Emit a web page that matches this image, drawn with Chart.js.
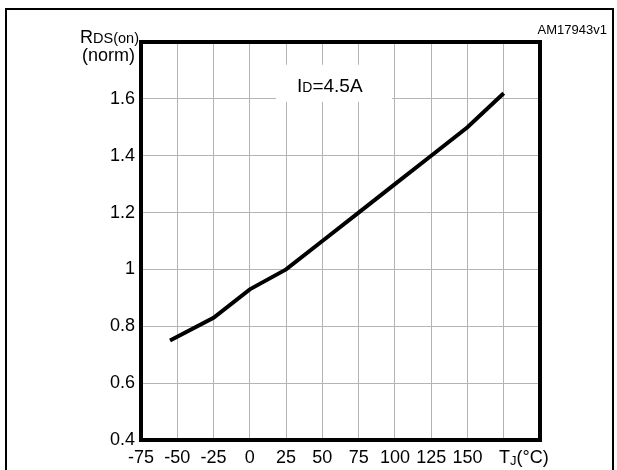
<!DOCTYPE html>
<html>
<head>
<meta charset="utf-8">
<script src="https://cdn.jsdelivr.net/npm/chart.js@4"></script>
<style>
  html, body { margin: 0; padding: 0; background: #fff; }
  canvas { display: block; }
</style>
</head>
<body>
<canvas id="rdsChart" width="617" height="470"></canvas>
<script>
// junction temperature (°C) and normalised RDS(on)
const temps = [-55, -25, 0, 25, 50, 75, 100, 125, 150, 175];
const rdsNorm = [0.75, 0.83, 0.93, 1.0, 1.1, 1.2, 1.3, 1.4, 1.5, 1.62];
const xTicks = [-75, -50, -25, 0, 25, 50, 75, 100, 125, 150];
const yTicks = [0.4, 0.6, 0.8, 1, 1.2, 1.4, 1.6];

const FONT = "'Liberation Sans', Arial, sans-serif";

const extras = {
  id: "extras",
  beforeDraw(chart) {
    const c = chart.ctx;
    c.save();
    c.strokeStyle = "#000";
    c.lineWidth = 2;
    c.strokeRect(6, 9, 607, 480);
    c.restore();
  },
  beforeDatasetsDraw(chart) {
    const c = chart.ctx;
    const x = chart.scales.x, y = chart.scales.y;
    // white label box over the grid
    const x0 = x.getPixelForValue(18), x1 = x.getPixelForValue(98);
    const y0 = y.getPixelForValue(1.72), y1 = y.getPixelForValue(1.59);
    c.save();
    c.fillStyle = "#fff";
    c.fillRect(x0, y0, x1 - x0, y1 - y0);
    c.fillStyle = "#000";
    c.textBaseline = "alphabetic";
    c.font = "19px " + FONT;
    const bx = 297, by = 92;
    c.fillText("I", bx, by);
    let w = c.measureText("I").width;
    c.font = "14px " + FONT;
    c.fillText("D", bx + w, by);
    w += c.measureText("D").width;
    c.font = "19px " + FONT;
    c.fillText("=4.5A", bx + w, by);
    c.restore();
  },
  afterDraw(chart) {
    const c = chart.ctx;
    const a = chart.chartArea;
    c.save();
    c.strokeStyle = "#000";
    c.lineWidth = 4;
    c.strokeRect(a.left, a.top, a.right - a.left, a.bottom - a.top);
    c.fillStyle = "#000";
    c.textBaseline = "alphabetic";
    // y axis title
    c.textAlign = "right";
    c.font = "14.5px " + FONT;
    const sub = "DS(on)";
    c.fillText(sub, 139, 43);
    const sw = c.measureText(sub).width;
    c.font = "18px " + FONT;
    c.fillText("R", 139 - sw, 43);
    c.font = "18px " + FONT;
    c.fillText("(norm)", 135, 61);
    // x axis title
    c.textAlign = "left";
    let tx = 499;
    c.font = "18px " + FONT;
    c.fillText("T", tx, 463);
    tx += c.measureText("T").width;
    c.font = "13px " + FONT;
    c.fillText("J", tx, 465);
    tx += c.measureText("J").width;
    c.font = "18px " + FONT;
    c.fillText("(°C)", tx, 463);
    // figure code
    c.textAlign = "right";
    c.font = "13px " + FONT;
    c.fillText("AM17943v1", 607, 34);
    c.restore();
  }
};

new Chart(document.getElementById("rdsChart").getContext("2d"), {
  type: "line",
  data: {
    datasets: [
      {
        data: temps.map((t, i) => ({ x: t, y: rdsNorm[i] })),
        borderColor: "#000",
        borderWidth: 4,
        pointRadius: 0,
        tension: 0,
        fill: false,
      },
    ],
  },
  options: {
    responsive: false,
    animation: false,
    layout: { padding: { left: 0, top: 42, right: 77, bottom: 0 } },
    plugins: { legend: { display: false }, tooltip: { enabled: false } },
    scales: {
      x: {
        type: "linear",
        min: -75,
        max: 200,
        afterFit(s) { s.height = 30; },
        afterBuildTicks(s) {
          s.ticks = xTicks.concat([175, 200]).map(v => ({ value: v }));
        },
        border: { display: false },
        grid: { color: "#b4b4b4", lineWidth: 1, drawTicks: false },
        ticks: {
          padding: 7,
          color: "#000",
          font: { family: FONT, size: 18 },
          maxRotation: 0,
          autoSkip: false,
          callback: v => (xTicks.includes(v) ? String(v) : ""),
        },
      },
      y: {
        min: 0.4,
        max: 1.8,
        afterFit(s) { s.width = 141; },
        afterBuildTicks(s) {
          s.ticks = yTicks.concat([1.8]).map(v => ({ value: v }));
        },
        border: { display: false },
        grid: { color: "#b4b4b4", lineWidth: 1, drawTicks: false },
        ticks: {
          padding: 6,
          color: "#000",
          font: { family: FONT, size: 18 },
          autoSkip: false,
          callback: v => (yTicks.includes(v) ? String(v) : ""),
        },
      },
    },
  },
  plugins: [extras],
});
</script>
</body>
</html>
